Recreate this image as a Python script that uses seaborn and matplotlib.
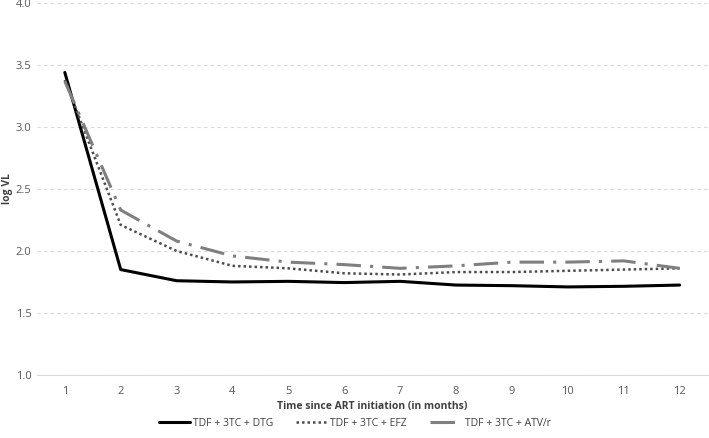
import numpy as np
import pandas as pd
import seaborn as sns
import matplotlib.pyplot as plt
from matplotlib.lines import Line2D

# values
months = [1, 2, 3, 4, 5, 6, 7, 8, 9, 10, 11, 12]
dtg = [3.44, 1.85, 1.76, 1.75, 1.755, 1.745, 1.755, 1.725, 1.72, 1.71, 1.715, 1.725]
efz = [3.38, 2.21, 2.00, 1.88, 1.86, 1.82, 1.81, 1.83, 1.83, 1.84, 1.85, 1.86]
atv = [3.37, 2.33, 2.08, 1.96, 1.91, 1.89, 1.86, 1.88, 1.91, 1.91, 1.92, 1.86]
labels = ["TDF + 3TC + DTG", "TDF + 3TC + EFZ", "TDF + 3TC + ATV/r"]

df = pd.DataFrame({
    "month": months * 3,
    "logvl": dtg + efz + atv,
    "regimen": [labels[0]] * 12 + [labels[1]] * 12 + [labels[2]] * 12,
})

sns.set_style("white")
plt.rcParams['font.family'] = ['Open Sans', 'DejaVu Sans']

fig = plt.figure(figsize=(7.09, 4.38), dpi=100)
ax = fig.add_axes([0.052, 0.144, 0.946, 0.849])

palette = {labels[0]: "black", labels[1]: "#4d4d4d", labels[2]: "#7f7f7f"}
dashes = {labels[0]: "", labels[1]: (1, 1.2), labels[2]: (8, 3, 1, 3)}
sizes = {labels[0]: 2.2, labels[1]: 1.8, labels[2]: 2.2}

sns.lineplot(data=df, x="month", y="logvl", hue="regimen", style="regimen",
             size="regimen", palette=palette, dashes=dashes, sizes=sizes,
             ax=ax, legend=False)

ax.set_xlim(0.5, 12.5)
ax.set_ylim(1.0, 4.0)
ax.set_xticks(months)
yt = np.arange(1.0, 4.01, 0.5)
ax.set_yticks(yt)
ax.set_yticklabels([f"{v:.1f}" for v in yt])
ax.tick_params(axis="both", labelsize=8, colors="#595959", length=0)
ax.tick_params(axis="x", pad=8)
ax.tick_params(axis="y", pad=4)
ax.yaxis.grid(True, linestyle=(0, (3, 3)), color="#d9d9d9", linewidth=0.8)
for s in ["top", "right", "left"]:
    ax.spines[s].set_visible(False)
ax.spines["bottom"].set_color("#d9d9d9")
ax.set_xlabel("Time since ART initiation (in months)", fontsize=7.5,
              fontweight="bold", color="#404040", labelpad=3)
ax.set_ylabel("log VL", fontsize=7.5, fontweight="bold", color="#404040")
ax.yaxis.set_label_coords(-0.036, 0.5)

handles = [
    Line2D([], [], color=palette[labels[0]], lw=2.2),
    Line2D([], [], color=palette[labels[1]], lw=1.8, dashes=(1, 1.2)),
    Line2D([], [], color=palette[labels[2]], lw=2.2, dashes=(8, 3, 1, 3)),
]
fig.legend(handles, labels, loc="lower center", bbox_to_anchor=(0.5, 0.0),
           ncol=3, frameon=False, fontsize=7.5, handlelength=3.0,
           columnspacing=2.2, handletextpad=0.3, labelcolor="#404040")

fig.savefig("out.png", dpi=100)
